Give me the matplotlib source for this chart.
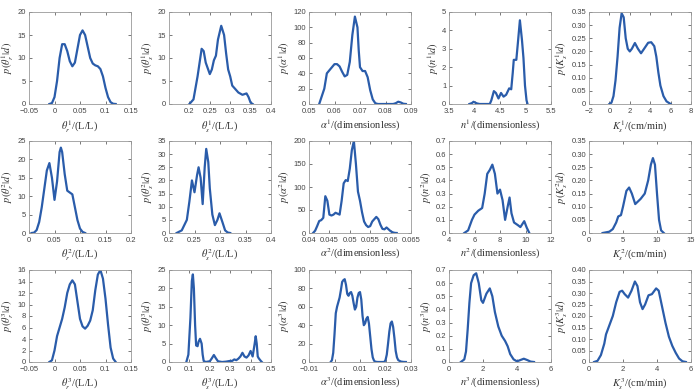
import matplotlib
matplotlib.use("Agg")
import matplotlib.pyplot as plt
import numpy as np

plt.rcParams['mathtext.fontset'] = 'stix'
plt.rcParams['font.family'] = 'Liberation Sans'

# ---- data (x, density) ----
# row 1
thr1_x = [-0.01, -0.005, 0, 0.005, 0.01, 0.015, 0.02, 0.025, 0.03, 0.035, 0.04, 0.045, 0.05, 0.055,
          0.06, 0.065, 0.07, 0.075, 0.08, 0.085, 0.09, 0.095, 0.1, 0.105, 0.11, 0.115, 0.12]
thr1_y = [0, 0.2, 1.5, 5, 10, 13, 13, 11.5, 9.3, 8.2, 9, 12, 15, 16,
          15, 12.5, 10, 8.8, 8.4, 8.2, 7.6, 6, 3.5, 1.5, 0.4, 0.05, 0]

ths1_x = [0.2, 0.21, 0.22, 0.23, 0.235, 0.24, 0.25, 0.255, 0.26, 0.265, 0.27, 0.278, 0.285,
          0.29, 0.295, 0.3, 0.305, 0.31, 0.32, 0.33, 0.34, 0.345, 0.35, 0.355]
ths1_y = [0, 1, 6, 12, 11.5, 9, 6.5, 7.5, 9.5, 10.5, 14, 17, 15,
          11, 7.5, 6, 4, 3.5, 2.5, 2, 2.3, 1.5, 0.3, 0]

a1_x = [0.054, 0.056, 0.057, 0.058, 0.059, 0.06, 0.061, 0.062, 0.063, 0.064, 0.065, 0.066, 0.067,
        0.068, 0.069, 0.0695, 0.07, 0.071, 0.072, 0.073, 0.074, 0.075, 0.076, 0.077, 0.08, 0.083,
        0.084, 0.085, 0.086, 0.087, 0.088]
a1_y = [0, 20, 40, 44, 48, 52, 52, 49, 42, 36, 38, 55, 90,
        114, 100, 70, 48, 43, 43, 35, 18, 6, 1, 0, 0, 0,
        1, 3, 2, 0.3, 0]

n1_x = [3.9, 3.95, 3.98, 4.05, 4.1, 4.3, 4.33, 4.38, 4.42, 4.47, 4.52, 4.57, 4.62, 4.68, 4.72,
        4.75, 4.77, 4.82, 4.85, 4.89, 4.93, 4.96, 4.99, 5.02, 5.04]
n1_y = [0, 0.05, 0.12, 0.03, 0, 0, 0.2, 0.7, 0.6, 0.3, 0.6, 0.4, 0.5, 0.85, 0.8,
        1.7, 2.4, 2.4, 3.3, 4.55, 3.5, 2.5, 1.0, 0.2, 0]

ks1_x = [0, 0.2, 0.4, 0.6, 0.8, 1.0, 1.2, 1.4, 1.6, 1.8, 2.0, 2.2, 2.5, 2.8, 3.1, 3.4, 3.8,
         4.1, 4.4, 4.6, 4.8, 5.0, 5.3, 5.6, 6.0]
ks1_y = [0, 0.005, 0.03, 0.09, 0.18, 0.29, 0.345, 0.33, 0.25, 0.21, 0.2, 0.21, 0.232, 0.21,
         0.193, 0.21, 0.233, 0.235, 0.22, 0.18, 0.12, 0.07, 0.03, 0.01, 0]

# row 2
thr2_x = [0.005, 0.01, 0.015, 0.02, 0.025, 0.03, 0.035, 0.04, 0.045, 0.05, 0.055, 0.06, 0.0625,
          0.065, 0.07, 0.075, 0.08, 0.085, 0.09, 0.095, 0.1, 0.105, 0.11]
thr2_y = [0, 0.1, 0.8, 3, 7, 12, 17, 19, 15, 9, 14, 22, 23.2,
          22, 16, 11.5, 11, 10.5, 7, 3.5, 1.2, 0.3, 0]

ths2_x = [0.215, 0.225, 0.235, 0.24, 0.245, 0.25, 0.255, 0.258, 0.262, 0.266, 0.27, 0.273, 0.277,
          0.28, 0.285, 0.29, 0.295, 0.299, 0.305, 0.31, 0.315, 0.32]
ths2_y = [0, 1, 5, 12, 20, 15.5, 22, 25, 21, 11, 25, 32, 27,
          17, 7, 3, 5, 7.5, 4, 1, 0.2, 0]

a2_x = [0.041, 0.0415, 0.042, 0.0425, 0.043, 0.0435, 0.044, 0.0445, 0.045, 0.0455, 0.046, 0.0465,
        0.047, 0.0475, 0.048, 0.0485, 0.049, 0.0495, 0.05, 0.0505, 0.051, 0.0515, 0.052, 0.0525,
        0.053, 0.0535, 0.054, 0.0545, 0.055, 0.0555, 0.0565, 0.057, 0.0575, 0.058, 0.0585, 0.059,
        0.0595, 0.06, 0.0605, 0.061, 0.0615]
a2_y = [0, 5, 15, 26, 28, 33, 80, 70, 40, 38, 40, 44,
        42, 40, 70, 108, 115, 113, 140, 180, 200, 150, 90, 70,
        45, 25, 17, 13, 15, 25, 35, 30, 18, 9, 8, 12,
        8, 4, 1.5, 0.3, 0]

n2_x = [5.2, 5.5, 5.8, 6.0, 6.3, 6.6, 6.8, 7.0, 7.2, 7.4, 7.6, 7.8, 8.0, 8.2, 8.4, 8.6, 8.75,
        8.9, 9.1, 9.4, 9.6, 9.9, 10.1, 10.3]
n2_y = [0, 0.02, 0.1, 0.14, 0.17, 0.19, 0.3, 0.45, 0.48, 0.52, 0.45, 0.3, 0.33, 0.25, 0.1, 0.2,
        0.27, 0.15, 0.08, 0.06, 0.045, 0.09, 0.04, 0]

ks2_x = [2, 3, 3.5, 4, 4.3, 4.7, 5, 5.5, 5.9, 6.3, 6.8, 7.2, 7.6, 8.2, 8.7, 9.1, 9.4, 9.7, 10,
         10.3, 10.6, 11]
ks2_y = [0, 0.005, 0.015, 0.04, 0.063, 0.068, 0.1, 0.16, 0.173, 0.15, 0.11, 0.12, 0.13, 0.15,
         0.2, 0.26, 0.285, 0.26, 0.15, 0.05, 0.01, 0]

# row 3
thr3_x = [-0.01, -0.005, 0, 0.005, 0.01, 0.015, 0.02, 0.025, 0.03, 0.035, 0.04, 0.045, 0.05, 0.055,
          0.06, 0.065, 0.07, 0.075, 0.08, 0.085, 0.09, 0.095, 0.1, 0.105, 0.11, 0.115, 0.12]
thr3_y = [0, 0.3, 2, 4.5, 6, 7.5, 9.5, 12, 13.5, 14.2, 13.5, 10.5, 7.5, 6.2,
          5.8, 6.3, 7.2, 9, 12.5, 15.2, 16, 14.5, 11, 6.5, 2.5, 0.6, 0]

ths3_x = [0.085, 0.095, 0.105, 0.112, 0.117, 0.122, 0.128, 0.133, 0.14, 0.145, 0.152, 0.16, 0.165,
          0.17, 0.18, 0.2, 0.21, 0.22, 0.23, 0.24, 0.26, 0.28, 0.3, 0.31, 0.32, 0.33, 0.34, 0.35,
          0.36, 0.37, 0.38, 0.39, 0.4, 0.41, 0.42, 0.425, 0.43, 0.435, 0.44, 0.45, 0.455]
ths3_y = [0, 2, 12, 22, 23.8, 20, 10, 4.5, 4.3, 5.5, 6.3, 5, 2,
          0.3, 0, 0.2, 1, 1.9, 1, 0.2, 0, 0.1, 0.3, 0.3, 0.7, 0.5, 0.9, 1.5,
          2.5, 1.5, 1.2, 1.8, 3, 1.5, 5, 7, 5, 1.5, 1, 0.3, 0]

a3_x = [-0.0015, -0.001, -0.0005, 0, 0.0005, 0.001, 0.0015, 0.002, 0.0025, 0.003, 0.0035, 0.004,
        0.0045, 0.005, 0.0055, 0.006, 0.0065, 0.007, 0.0075, 0.008, 0.0085, 0.009, 0.0095, 0.01,
        0.0105, 0.011, 0.0115, 0.012, 0.0125, 0.013, 0.0135, 0.014, 0.0145, 0.015, 0.0155, 0.016,
        0.017, 0.0195, 0.02, 0.0205, 0.021, 0.0215, 0.022, 0.0225, 0.023, 0.0235, 0.024, 0.0245,
        0.025, 0.026, 0.027, 0.028]
a3_y = [0, 2, 10, 30, 53, 60, 65, 70, 78, 87, 89, 90,
        84, 74, 72, 75, 76, 72, 64, 57, 60, 70, 75, 76,
        68, 50, 40, 42, 47, 49, 42, 28, 14, 5, 1.5, 0.3,
        0, 0, 2, 8, 20, 33, 42, 44, 38, 26, 12, 5,
        2, 0.5, 0.1, 0]

n3_x = [0.7, 0.9, 1.0, 1.1, 1.2, 1.3, 1.45, 1.6, 1.75, 1.9, 2.0, 2.2, 2.4, 2.55, 2.7, 2.9, 3.1,
        3.3, 3.45, 3.6, 3.8, 4.0, 4.2, 4.4, 4.6, 4.8, 5.0]
n3_y = [0, 0.02, 0.08, 0.25, 0.45, 0.6, 0.66, 0.675, 0.6, 0.47, 0.45, 0.52, 0.56, 0.5, 0.38, 0.27,
        0.2, 0.16, 0.12, 0.06, 0.02, 0.005, 0.015, 0.025, 0.015, 0.003, 0]

ks3_x = [0.3, 0.5, 0.7, 0.9, 1.0, 1.2, 1.4, 1.6, 1.8, 1.95, 2.1, 2.3, 2.5, 2.7, 2.85, 3.0, 3.15,
         3.3, 3.5, 3.7, 3.95, 4.1, 4.3, 4.5, 4.7, 4.9, 5.1, 5.3, 5.5, 5.7]
ks3_y = [0, 0.005, 0.03, 0.08, 0.12, 0.16, 0.2, 0.26, 0.305, 0.31, 0.295, 0.28, 0.31, 0.35, 0.33,
         0.26, 0.23, 0.25, 0.29, 0.295, 0.32, 0.31, 0.24, 0.17, 0.11, 0.07, 0.04, 0.015, 0.003, 0]

# labels
xlabels = [r'$\theta_r^1$/(L/L)', r'$\theta_s^1$/(L/L)', r'$\alpha^1$/(dimensionless)',
           r'$n^1$/(dimensionless)', r'$K_s^1$/(cm/min)']
ylabels = [r'$p(\theta_r^1|d)$', r'$p(\theta_s^1|d)$', r'$p(\alpha^1|d)$',
           r'$p(n^1|d)$', r'$p(K_s^1|d)$']

xs = [[thr1_x, ths1_x, a1_x, n1_x, ks1_x],
      [thr2_x, ths2_x, a2_x, n2_x, ks2_x],
      [thr3_x, ths3_x, a3_x, n3_x, ks3_x]]
ys = [[thr1_y, ths1_y, a1_y, n1_y, ks1_y],
      [thr2_y, ths2_y, a2_y, n2_y, ks2_y],
      [thr3_y, ths3_y, a3_y, n3_y, ks3_y]]

# axis ticks: (start, stop, step)
xticks = [[(-0.05, 0.15, 0.05), (0.2, 0.4, 0.05), (0.05, 0.09, 0.01), (3.5, 5.5, 0.5), (-2, 8, 2)],
          [(0, 0.2, 0.05), (0.2, 0.4, 0.05), (0.04, 0.065, 0.005), (4, 12, 2), (0, 15, 5)],
          [(-0.05, 0.15, 0.05), (0, 0.5, 0.1), (-0.01, 0.03, 0.01), (0, 6, 2), (0, 6, 2)]]
xlims = [[(-0.05, 0.15), (0.15, 0.4), (0.05, 0.09), (3.5, 5.5), (-2, 8)],
         [(0, 0.2), (0.2, 0.4), (0.04, 0.065), (4, 12), (0, 15)],
         [(-0.05, 0.15), (0, 0.5), (-0.01, 0.03), (0, 6), (0, 6)]]
yticks = [[(0, 20, 5), (0, 20, 5), (0, 120, 20), (0, 5, 1), (0, 0.35, 0.05)],
          [(0, 25, 5), (0, 35, 5), (0, 200, 50), (0, 0.7, 0.1), (0, 0.35, 0.05)],
          [(0, 16, 2), (0, 25, 5), (0, 100, 20), (0, 0.7, 0.1), (0, 0.4, 0.05)]]


def lab(v, two=False):
    if abs(v) < 1e-12:
        return '0'
    if two:
        return '%.2f' % v
    return ('%g' % round(v, 6)).replace('-', '\u2212')


fig = plt.figure(figsize=(7, 3.92), dpi=100)
W, H = 700, 392
for r in range(3):
    for c in range(5):
        left = 29 + 140 * c
        top = 12 + 129 * r
        ax = fig.add_axes([left / W, 1 - (top + 92) / H, 102 / W, 92 / H])
        ax.plot(xs[r][c], ys[r][c], color='#2a5caa', lw=1.6, solid_joinstyle='round')
        a, b, s = xticks[r][c]
        xt = np.round(np.arange(a, b + s / 2, s), 6)
        ax.set_xticks(xt)
        ax.set_xticklabels([lab(v) for v in xt])
        ax.set_xlim(*xlims[r][c])
        a, b, s = yticks[r][c]
        yt = np.round(np.arange(a, b + s / 2, s), 6)
        ax.set_yticks(yt)
        ax.set_yticklabels([lab(v, two=(c == 4)) for v in yt])
        ax.set_ylim(a, b)
        ax.tick_params(direction='in', length=2, width=0.5, labelsize=5.5,
                       colors='#444444', top=True, right=True)
        ax.tick_params(axis='x', pad=3)
        ax.tick_params(axis='y', pad=2)
        for sp in ax.spines.values():
            sp.set_color('#999999')
            sp.set_linewidth(0.6)
        ax.set_xlabel(xlabels[c].replace('1', str(r + 1)), family='Liberation Serif',
                      fontsize=7.5, color='#333333', labelpad=2)
        ax.set_ylabel(ylabels[c].replace('1', str(r + 1)), family='Liberation Serif',
                      fontsize=7.5, color='#333333', labelpad=1)

fig.savefig('out.png', dpi=100, facecolor='white')
